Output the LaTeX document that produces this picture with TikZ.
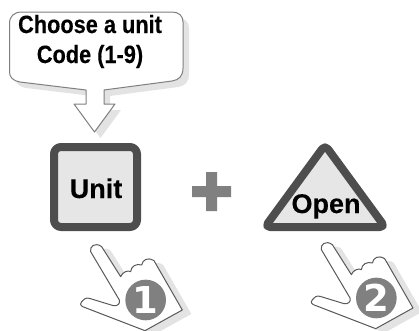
\documentclass[tikz,border=0pt]{standalone}
\usepackage{fontspec}
\setmainfont{Liberation Sans}[BoldFeatures={FakeBold=0.25}]
\newfontfamily\digitfont{DejaVu Sans}
\definecolor{shadowgrey}{HTML}{E3E3E3}
\definecolor{edgegrey}{HTML}{7F7F7F}
\definecolor{darkrim}{HTML}{4D4D4D}
\definecolor{fillgrey}{HTML}{E6E6E6}
\definecolor{midgrey}{HTML}{808080}
\tikzset{
  callouttext/.style={inner sep=0pt,anchor=base,font=\bfseries\fontsize{25}{25}\selectfont,xscale=.87,text=black},
  keytext/.style={inner sep=0pt,anchor=base,font=\bfseries\fontsize{27}{27}\selectfont,text=black},
  digit/.style={inner sep=0pt,anchor=center,font=\digitfont\bfseries\fontsize{37}{37}\selectfont,text=white},
  rim/.style={draw=darkrim,line width=8pt,fill=fillgrey,line join=round},
}
\newcommand{\bubblepath}{(22,12) -- (172,12) .. controls (179,12) and (183,16) .. (183,22) -- (183,68) .. controls (183,76) and (179,80) .. (172,81) -- (104,90) -- (104,104) -- (115,104) -- (94.5,132) -- (74,104) -- (86,104) -- (86,90) -- (20,82) .. controls (13,81) and (9.5,77) .. (9.5,72) -- (9.5,24) .. controls (9.5,16) and (14,12) .. (22,12) -- cycle}
\newcommand{\handpath}{(182,365) .. controls (178,350) and (195,335) .. (215,350) -- (272,440) .. controls (278,425) and (295,420) .. (302,425) .. controls (303,408) and (320,400) .. (335,405) .. controls (338,390) and (352,380) .. (372,392) -- (457,540) -- (345,602) -- (158,530) .. controls (150,525) and (150,520) .. (155,515) .. controls (160,508) and (168,502) .. (178,505) -- (250,527) .. controls (262,530) and (272,520) .. (268,510) -- cycle}
\begin{document}
\begin{tikzpicture}[x=1pt,y=-1pt]
\useasboundingbox (0,0) rectangle (419,330);
\clip (0,0) rectangle (419,330);
% callout
\begin{scope}[shift={(6,6)}]
  \fill[shadowgrey] \bubblepath;
\end{scope}
\draw[edgegrey,fill=white,line width=1pt,line join=round] \bubblepath;
\node[callouttext] (line1) at (90,33) {Choose a unit};
\node[callouttext] (line2) at (90,63) {Code (1-9)};
% unit key
\draw[rim,rounded corners=7pt] (54,147) rectangle (137,227);
\node[keytext] (unit) at (96,198) {Unit};
% plus
\fill[midgrey] (206,172) -- (217,172) -- (217,186) -- (231,186) -- (231,197) -- (217,197) -- (217,211) -- (206,211) -- (206,197) -- (192,197) -- (192,186) -- (206,186) -- cycle;
% open key
\draw[rim,rounded corners=5pt] (325,145) -- (385,227) -- (265,227) -- cycle;
\node[keytext] (open) at (326,213) {Open};
% hand 1
\begin{scope}[shift={(30,130)},x=.3333pt,y=-.3333pt]
  \begin{scope}[shift={(27,12)}]\fill[shadowgrey] \handpath;\end{scope}
  \draw[edgegrey!70!black,fill=white,line width=1pt,line join=round] \handpath;
  \fill[midgrey] (347,510) circle (61);
  \node[digit] (one) at (347,510) {1};
\end{scope}
% hand 2
\begin{scope}[shift={(260.7,128)},x=.3333pt,y=-.3333pt]
  \begin{scope}[shift={(27,12)}]\fill[shadowgrey] \handpath;\end{scope}
  \draw[edgegrey!70!black,fill=white,line width=1pt,line join=round] \handpath;
  \fill[midgrey] (347,510) circle (61);
  \node[digit] (two) at (347,510) {2};
\end{scope}
\end{tikzpicture}
\end{document}
